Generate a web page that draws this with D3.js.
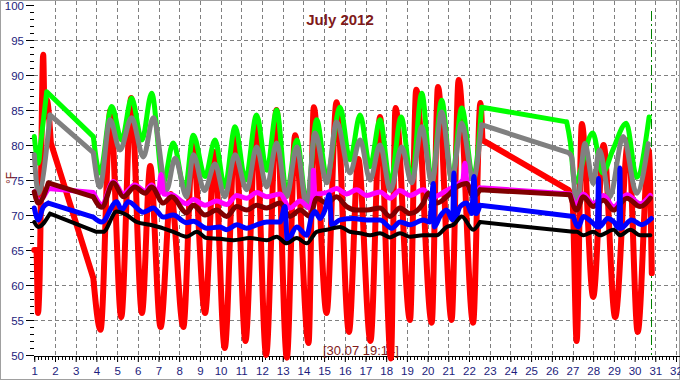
<!DOCTYPE html>
<html>
<head>
<meta charset="utf-8">
<script src="https://cdn.jsdelivr.net/npm/d3@7"></script>
<style>
  body { margin: 0; background: #fff; }
  svg { display: block; font-family: Arial, "Liberation Sans", sans-serif; }
</style>
</head>
<body>
<script>
// July 2012 temperatures, [day of month, degF]
const outdoor = [[1.0,65],[1.1,65],[1.18,56],[1.25,60],[1.43,92.9],[1.5,84],[1.6,86.5],[1.8,80.3],
  [3.85,61],[4.2,53.6],[4.68,85],[5.2,55.4],[5.68,86.7],[6.2,56],[6.6,77],[7.1,54],[7.6,73],[8.2,54],
  [8.65,80],[9.25,56],[9.7,79],[10.2,51],[10.7,82],[11.2,52],[11.7,83],[12.2,50],[12.7,85],[13.2,49.6],
  [13.6,81.4],[14.25,51.7],[14.5,85.4],[15.12,56],[15.6,86.1],[16.2,53.3],[16.65,78],[17.24,52],[17.7,84],
  [18.23,49.5],[18.45,85.3],[19.15,55],[19.45,87.9],[20.2,54.6],[20.5,88.3],[21.16,55],[21.5,89.3],
  [22.2,54.6],[22.55,86],[22.65,80.7],[26.8,73.6],[27.0,72],[27.2,52],[27.45,83],[28.0,58.3],[28.5,80],
  [29.06,55.4],[29.7,80.7],[30.15,53.3],[30.68,79.3],[30.83,61.7]];
const greenT = [[1.0,81.2],[1.2,77.4],[1.3,80],[1.6,87.6],[3.85,81.2],[4.17,76],[4.74,85.5],[5.22,80.7],
  [5.7,86.7],[6.2,80.7],[6.67,87.4],[7.23,74.6],[7.71,80.3],[8.28,73.6],[8.68,81.4],[9.25,75.5],[9.73,80.7],
  [10.2,74],[10.7,82.6],[11.2,75],[11.74,84.3],[12.23,76.4],[12.71,85],[13.19,73.1],[13.68,80.7],[14.16,71.7],
  [14.64,83.6],[15.13,75.4],[15.77,85.4],[16.25,77.9],[16.74,84.3],[17.22,76.9],[17.7,83.6],[18.2,74.5],
  [18.72,84],[19.23,75],[19.72,87.4],[20.2,74.6],[20.68,86.4],[21.17,75],[21.65,85.3],[22.2,75.3],
  [22.61,85.4],[26.72,83.3],[26.9,80.3],[27.1,74.6],[27.98,81.7],[28.45,76],[28.95,79.3],[29.6,83.1],
  [30.1,75.4],[30.7,84]];
const grayT = [[1.0,78.6],[1.19,73.1],[1.76,84.3],[3.85,78.9],[4.17,74],[4.66,83.6],[5.14,79.3],[5.7,83.9],
  [6.27,78.3],[6.75,83.9],[7.39,73.6],[7.8,78.1],[8.36,72.6],[8.68,78.6],[9.22,73.5],[9.73,77.3],[10.2,72.6],
  [10.7,78.6],[11.26,73.6],[11.74,79.7],[12.23,74],[12.71,80.3],[13.19,72.6],[13.68,79.7],[14.16,71.1],
  [14.56,81.7],[15.13,74.6],[15.6,83.3],[16.25,76],[16.74,80.7],[17.22,75],[17.7,80],[18.2,73.5],
  [18.75,79.7],[19.23,74.6],[19.72,82.6],[20.2,74.6],[20.68,84.7],[21.17,75],[21.65,83.1],[22.2,75],
  [22.6,82.9],[26.8,78.9],[26.96,78.3],[27.2,70.7],[27.6,80.2],[28.0,74.5],[28.3,79.3],[28.8,72.6],
  [29.45,81.2],[30.1,73.1],[30.66,80.2]];
const magentaT = [[1.0,73.3],[1.19,72],[1.68,73.8],[3.85,73.2],[4.26,71.5],[4.82,74.8],[5.3,73],[5.86,74.3],
  [6.35,73.4],[6.67,74.3],[7.0,73],[7.12,75.8],[7.25,73],[7.64,72.9],[8.36,71.6],[8.68,72.2],[9.25,71.4],
  [9.81,72],[10.29,71.5],[10.78,72.8],[11.26,72.4],[11.74,73.2],[12.23,72.6],[12.87,73],[13.35,71],[13.84,72],
  [14.32,71],[14.45,72.8],[14.48,76.4],[14.55,73],[15.13,73.2],[15.6,73.8],[16.09,73],[16.57,73.6],
  [17.06,72.8],[17.7,73.3],[18.18,72.4],[18.66,73.5],[19.15,72.8],[19.79,73.6],[20.2,72.5],[20.92,73.5],
  [21.41,74.3],[21.7,75],[21.8,77.4],[21.9,74.8],[22.2,73],[22.53,73.9],[26.88,73.0],[27.2,71.5],
  [27.52,73],[28.0,71.6],[28.5,72.8],[28.98,71.2],[29.63,72.9],[30.27,71.6],[30.76,72.8]];
const maroonT = [[1.0,73.3],[1.19,71.7],[1.68,74.6],[3.85,72.6],[4.26,71.1],[4.82,74.6],[5.3,72.6],[5.86,74],
  [6.35,73.1],[6.67,74],[7.23,71.7],[7.64,72.6],[8.36,70.3],[8.68,71.4],[9.25,70],[9.81,70.7],[10.29,69.8],
  [10.78,71.2],[11.26,70.7],[11.74,71.4],[12.23,71],[12.87,71.7],[13.35,69.8],[13.84,70.7],[14.32,69.8],
  [14.64,72.4],[15.13,71.7],[15.6,72.6],[16.09,71.2],[16.57,70.7],[17.06,70.7],[17.7,71],[18.18,69.8],
  [18.66,71],[19.15,70.2],[19.79,71.7],[20.03,73.1],[20.44,71.7],[20.92,72.6],[21.41,74],[21.89,74.5],
  [22.2,72.6],[22.53,73.6],[26.88,72.9],[27.2,70.7],[27.52,72.6],[28.0,71.2],[28.5,72.1],[28.98,70.7],
  [29.63,72.4],[30.27,71.2],[30.76,72.4]];
const blueT = [[1.0,71],[1.19,69.3],[1.43,71.1],[1.68,71.7],[3.85,69.7],[4.26,69],[4.98,71.9],[5.22,70.7],
  [5.54,71.9],[6.27,70.4],[6.75,71],[7.23,69.7],[7.71,70],[8.36,68.9],[8.68,69.1],[9.33,68.1],[9.97,68.3],
  [10.29,67.9],[10.78,68.6],[11.26,68.1],[11.74,68.6],[12.23,69],[12.87,69],[13.11,71.2],[13.22,66.4],
  [13.68,68.3],[14.16,67.1],[14.4,69.8],[14.56,70.5],[14.8,69.5],[15.04,70.7],[15.25,72.9],[15.37,68.6],
  [15.77,69.3],[16.41,69.5],[17.06,69.3],[17.7,69.3],[18.27,68.1],[18.67,69],[19.15,68.6],[19.79,69.3],
  [20.1,69],[20.28,74.5],[20.32,68.3],[20.6,69.8],[20.92,70.7],[21.21,69.3],[21.27,76],[21.31,69.3],
  [21.57,71.2],[21.89,71.7],[22.13,70.2],[22.24,75.5],[22.34,70.2],[22.53,71.4],[27.04,69.8],[27.28,68.3],
  [27.52,69.8],[28.0,68.8],[28.2,68.3],[28.26,75.2],[28.3,68.3],[28.7,69.5],[29.0,69],[29.24,68.1],
  [29.29,76.7],[29.33,68.1],[29.85,69.3],[30.33,68.6],[30.81,69.5]];
const blackT = [[1.0,69],[1.19,68.3],[1.76,70.2],[4.0,67.6],[4.33,67.6],[4.98,70.5],[5.46,70],[5.95,69],
  [6.59,68.6],[7.23,68.1],[7.71,67.6],[8.36,66.9],[8.85,67.6],[9.33,66.7],[9.97,66.6],[10.62,66.4],
  [11.42,66.7],[12.23,66.4],[12.71,66.9],[13.19,65.95],[13.68,66.7],[14.16,65.95],[14.64,67.6],[15.13,67.9],
  [15.77,68.3],[16.25,67.6],[16.74,67.4],[17.22,67.1],[17.7,67.4],[18.18,66.8],[18.67,67.4],[19.15,66.9],
  [19.79,67.1],[20.44,67.1],[20.92,68.3],[21.25,68.6],[21.65,69.8],[22.2,67.9],[22.53,69],[27.04,67.6],
  [27.2,67.6],[27.52,67.1],[28.0,67.6],[28.33,67.1],[28.98,67.9],[29.3,67.1],[29.79,67.9],[30.27,67.1],
  [30.76,67.1]];

const dayTicks = d3.range(1, 33);
const tempTicks = d3.range(50, 101, 5);
const nowDay = 30.8;
const nowLabel = "[30.07 19:14]";
const title = "July 2012";

const W = 680, H = 380;
const svg = d3.select("body").append("svg").attr("width", W).attr("height", H);
svg.append("rect").attr("x", 0.5).attr("y", 0.5).attr("width", W - 1).attr("height", H - 1)
  .attr("fill", "#fff").attr("stroke", "#a0a0a0");

const x = d3.scaleLinear().domain([1, 32]).range([34.3, 676]);
const y = d3.scaleLinear().domain([50, 100]).range([355, 5]);

// grid
svg.append("g").selectAll("line").data(dayTicks.slice(1)).join("line")
  .attr("x1", d => Math.round(x(d)) + 0.5).attr("x2", d => Math.round(x(d)) + 0.5)
  .attr("y1", 1).attr("y2", 355)
  .attr("stroke", "#808080").attr("stroke-dasharray", "4,3");
svg.append("g").selectAll("line").data(tempTicks.filter(t => t > 50 && t < 100)).join("line")
  .attr("x1", 34).attr("x2", 679)
  .attr("y1", d => Math.round(y(d)) + 0.5).attr("y2", d => Math.round(y(d)) + 0.5)
  .attr("stroke", "#808080").attr("stroke-dasharray", "4,3");

// y axis
const yAxis = d3.axisLeft(y).tickValues(tempTicks).tickSize(8).tickPadding(2);
const gy = svg.append("g").attr("transform", "translate(34,0)").call(yAxis);
gy.select(".domain").remove();
gy.selectAll("text").attr("fill", "#1c1c7c").attr("dy", "0.36em")
  .style("font-size", "11.5px").style("font-family", "Arial, 'Liberation Sans', sans-serif");
svg.append("g").selectAll("line").data(d3.range(50, 100)).join("line")
  .attr("x1", 30).attr("x2", 34)
  .attr("y1", d => Math.round(y(d)) + 0.5).attr("y2", d => Math.round(y(d)) + 0.5)
  .attr("stroke", "#000");

// x axis
const xAxis = d3.axisBottom(x).tickValues(dayTicks).tickSize(6).tickPadding(5).tickFormat(d3.format("d"));
const gx = svg.append("g").attr("transform", "translate(0,356)").call(xAxis);
gx.select(".domain").attr("d", "M34,0.5H680");
gx.selectAll("text").attr("fill", "#1c1c7c")
  .style("font-size", "11.5px").style("font-family", "Arial, 'Liberation Sans', sans-serif");
svg.append("g").selectAll("line").data(d3.range(1, 32.01, 1 / 6)).join("line")
  .attr("x1", d => Math.round(x(d)) + 0.5).attr("x2", d => Math.round(x(d)) + 0.5)
  .attr("y1", 356).attr("y2", 360).attr("stroke", "#000");

// current time marker and its label sit under the curves
svg.append("line")
  .attr("x1", Math.round(x(nowDay)) + 0.5).attr("x2", Math.round(x(nowDay)) + 0.5)
  .attr("y1", 11).attr("y2", 355)
  .attr("stroke", "#008000").attr("stroke-dasharray", "10,3,2,3");
svg.append("text").attr("x", 323).attr("y", 355)
  .attr("fill", "#7f1a1a").style("font-size", "13px").text(nowLabel);

// series: smooth within logged runs, straight across the logging gaps
const smooth = d3.line().x(d => x(d[0])).y(d => y(d[1])).curve(d3.curveMonotoneX);
const straight = d3.line().x(d => x(d[0])).y(d => y(d[1]));
function seriesPath(pts) {
  let runs = [[pts[0]]], gaps = [];
  for (let i = 1; i < pts.length; i++) {
    if (pts[i][0] - pts[i - 1][0] > 1.5) { gaps.push([pts[i - 1], pts[i]]); runs.push([]); }
    runs[runs.length - 1].push(pts[i]);
  }
  return runs.map(r => smooth(r)).join("") + gaps.map(g => straight(g)).join("");
}
const series = [
  [outdoor, "#ff0000", 6],
  [greenT, "#00ff00", 5],
  [grayT, "#808080", 5],
  [magentaT, "#ff00ff", 5],
  [maroonT, "#800000", 5],
  [blueT, "#0000ff", 5],
  [blackT, "#000000", 4]
];
svg.append("g").selectAll("path").data(series).join("path")
  .attr("d", d => seriesPath(d[0]))
  .attr("fill", "none")
  .attr("stroke", d => d[1])
  .attr("stroke-width", d => d[2])
  .attr("stroke-linejoin", "round")
  .attr("stroke-linecap", "round");

// titles
svg.append("text").attr("x", 340).attr("y", 25).attr("text-anchor", "middle")
  .attr("fill", "#7f1a1a").style("font-size", "15px").style("font-weight", "bold").text(title);
svg.append("text").attr("transform", "translate(15,178) rotate(-90)").attr("text-anchor", "middle")
  .attr("fill", "#7f1a1a").style("font-size", "12px").text("°F");
</script>
</body>
</html>
